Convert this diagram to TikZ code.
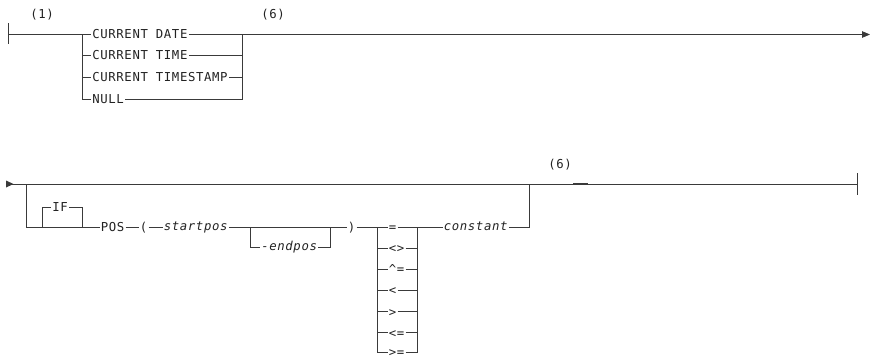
\documentclass[tikz,border=0pt]{standalone}
\usepackage{fontspec}
\setmonofont[LetterSpace=5]{DejaVu Sans Mono}
\usetikzlibrary{arrows.meta}
\definecolor{ln}{HTML}{3A3A3A}
\definecolor{tx}{HTML}{222222}
\begin{document}
\begin{tikzpicture}[x=1pt,y=-1pt,
  line/.style={draw=ln,line width=0.9pt},
  kw/.style={font=\ttfamily\fontsize{12.3}{14}\selectfont, text=tx, inner sep=1.2pt, anchor=west, text height=9pt, text depth=0pt},
  var/.style={kw, font=\ttfamily\itshape\fontsize{12.3}{14}\selectfont, text height=6.7pt},
  note/.style={font=\ttfamily\fontsize{12.3}{14}\selectfont, text=tx, inner sep=0pt},
  bar/.style={draw=ln,line width=1pt},
  thickseg/.style={draw=ln,line width=1.25pt}
]
\useasboundingbox (0,0) rectangle (874,358);

% ---------------- first line ----------------
\node[note] (n1) at (42,15) {(1)};
\node[note] (n6a) at (273,15) {(6)};
\coordinate (s1) at (8,34.5);
\coordinate (tl) at (82,34.5);
\coordinate (tr) at (242,34.5);
\coordinate (e1) at (870,34.5);
\draw[bar] ([yshift=11pt]s1) -- ([yshift=-10pt]s1);
\draw[thickseg] (s1) -- ([xshift=17pt]s1);

\node[kw] (t1) at (91,34.5) {CURRENT DATE};
\node[kw] (t2) at (91,55.5) {CURRENT TIME};
\node[kw] (t3) at (91,77.5) {CURRENT TIMESTAMP};
\node[kw] (t4) at (91,99.5) {NULL};

\draw[line] (s1) -- (tl) -- (t1.west);
\draw[line] (tl) |- (t4.west);
\draw[line] (tl|-t2) -- (t2.west);
\draw[line] (tl|-t3) -- (t3.west);
\draw[line,-{Triangle[length=8pt,width=6.5pt]}] (t1.east) -- (tr) -- (e1);
\draw[line] (t4.east) -| (tr);
\draw[line] (t2.east) -- (tr|-t2);
\draw[line] (t3.east) -- (tr|-t3);

% ---------------- second line ----------------
\node[note] (n6b) at (560,164.5) {(6)};
\coordinate (s2) at (6,184);
\coordinate (bl) at (26,184);
\coordinate (br) at (529,184);
\coordinate (e2) at (857,184);
\fill[ln] ([yshift=3.5pt]s2) -- ([xshift=7.5pt]s2) -- ([yshift=-3.5pt]s2) -- cycle;
\draw[line] (s2) -- (e2);
\draw[bar] ([yshift=11pt]e2) -- ([yshift=-11pt]e2);
\draw[thickseg] (573,184) -- (588,184);

\coordinate (ifl) at (42,227);
\coordinate (ifr) at (82,227);
\node[kw] (if) at (51,207) {IF};
\node[kw] (pos) at (99.5,227) {POS};
\node[kw] (lp) at (138.5,227) {(};
\node[var] (sp) at (162.5,227) {startpos};
\coordinate (epl) at (250,227);
\coordinate (epr) at (330,227);
\node[var] (ep) at (260,247) {-endpos};
\node[kw] (rp) at (346.5,227) {)};
\coordinate (ol) at (377,227);
\coordinate (or) at (417,227);
\node[kw] (o1) at (387.5,227) {=};
\node[kw] (o2) at (387.5,248) {<>};
\node[kw] (o3) at (387.5,269) {\textasciicircum=};
\node[kw] (o4) at (387.5,290) {<};
\node[kw] (o5) at (387.5,311.5) {>};
\node[kw] (o6) at (387.5,332.5) {<=};
\node[kw,inner ysep=0pt,text height=7pt] (o7) at (387.5,352.5) {>=};
\node[var] (cst) at (442.5,227) {constant};

\draw[line] (bl) |- (pos.west);
\draw[line] (ifl) |- (if.west);
\draw[line] (if.east) -| (ifr);
\draw[line] (pos.east) -- (lp.west);
\draw[line] (lp.east) -- (sp.west);
\draw[line] (sp.east) -- (rp.west);
\draw[line] (epl) |- (ep.west);
\draw[line] (ep.east) -| (epr);
\draw[line] (rp.east) -- (o1.west);
\draw[line] (ol) |- (o7.west);
\draw[line] (ol|-o2) -- (o2.west);
\draw[line] (ol|-o3) -- (o3.west);
\draw[line] (ol|-o4) -- (o4.west);
\draw[line] (ol|-o5) -- (o5.west);
\draw[line] (ol|-o6) -- (o6.west);
\draw[line] (o1.east) -- (cst.west);
\draw[line] (o7.east) -| (or);
\draw[line] (o2.east) -- (or|-o2);
\draw[line] (o3.east) -- (or|-o3);
\draw[line] (o4.east) -- (or|-o4);
\draw[line] (o5.east) -- (or|-o5);
\draw[line] (o6.east) -- (or|-o6);
\draw[line] (or) -- (o1.east);
\draw[line] (cst.east) -| (br);
\end{tikzpicture}
\end{document}
